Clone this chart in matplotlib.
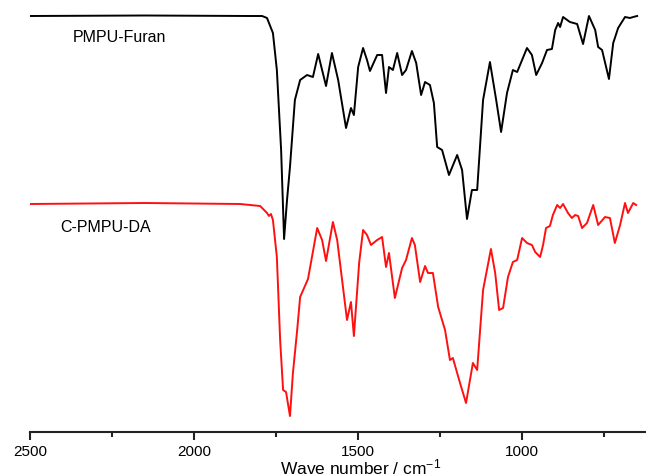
import matplotlib
matplotlib.use("Agg")
import matplotlib.pyplot as plt
from matplotlib.ticker import MultipleLocator

plt.rcParams['font.family'] = ['Liberation Sans', 'DejaVu Sans']
plt.rcParams['mathtext.fontset'] = 'custom'
plt.rcParams['mathtext.rm'] = 'Liberation Sans'
plt.rcParams['mathtext.it'] = 'Liberation Sans'

# wavenumber (cm-1) and offset transmittance (a.u.)
furan_wn = [2500, 2149, 1829, 1792, 1777, 1759, 1747, 1734, 1725, 1716, 1707, 1692, 1676,
            1655, 1637, 1621, 1597, 1579, 1560, 1536, 1521, 1512, 1499, 1484, 1472, 1463,
            1441, 1426, 1414, 1405, 1393, 1380, 1365, 1353, 1335, 1322, 1307, 1295, 1280,
            1268, 1258, 1243, 1222, 1197, 1182, 1167, 1152, 1136, 1118, 1097, 1078, 1063,
            1045, 1027, 1014, 984, 969, 956, 938, 923, 908, 898, 889, 883, 874, 853, 831,
            813, 795, 776, 767, 755, 734, 721, 706, 685, 670, 660, 648]
furan_t = [416, 416.5, 416, 416, 414, 399, 362, 282, 193, 232, 265, 332, 352,
           357, 355, 378, 346, 379, 352, 304, 324, 317, 365, 384, 372, 361,
           377, 377, 339, 365, 362, 379, 357, 362, 381, 369, 337, 350, 347,
           329, 285, 282, 257, 277, 262, 213, 242, 242, 332, 370, 332, 300,
           339, 362, 360, 384, 377, 357, 369, 382, 383, 402, 409, 405, 415, 410, 408,
           388, 416, 402, 385, 382, 353, 389, 404, 415, 414, 415, 416]

da_wn = [2500, 2149, 1859, 1798, 1777, 1771, 1765, 1759, 1747, 1737, 1728, 1719, 1707,
         1698, 1685, 1676, 1652, 1624, 1609, 1597, 1576, 1563, 1548, 1533, 1521, 1512,
         1496, 1484, 1472, 1460, 1441, 1426, 1414, 1405, 1387, 1365, 1353, 1335, 1326,
         1310, 1295, 1286, 1271, 1255, 1234, 1219, 1210, 1191, 1170, 1149, 1136, 1118,
         1094, 1081, 1069, 1057, 1042, 1027, 1014, 999, 984, 969, 959, 944, 935, 926,
         914, 905, 892, 883, 874, 859, 847, 837, 828, 816, 801, 782, 767, 746, 731,
         716, 700, 685, 676, 660, 651]
da_t = [228, 229, 228, 226, 219, 216, 218, 212, 175, 92, 42, 40, 16,
        59, 102, 135, 153, 204, 192, 171, 210, 192, 152, 112, 130, 96,
        169, 202, 197, 187, 192, 195, 165, 179, 134, 164, 172, 194, 187,
        150, 166, 159, 159, 125, 102, 72, 74, 52, 29, 69, 62, 142,
        183, 159, 122, 124, 155, 170, 172, 194, 189, 187, 180, 175, 187, 204,
        206, 217, 227, 224, 228, 219, 214, 217, 216, 204, 209, 227, 207, 215, 214,
        189, 207, 229, 219, 229, 227]

fig = plt.figure(figsize=(6.46, 4.74), dpi=100)
ax = fig.add_axes([30 / 646, 42 / 474, 616 / 646, 432 / 474])

ax.plot(furan_wn, furan_t, color='black', lw=1.4, solid_joinstyle='round')
ax.plot(da_wn, da_t, color='#ff1010', lw=1.4, solid_joinstyle='round')

ax.set_xlim(2500, 621)
ax.set_ylim(0, 432)

for side in ['top', 'left', 'right']:
    ax.spines[side].set_visible(False)
ax.spines['bottom'].set_linewidth(1.5)
ax.spines['bottom'].set_color('#222222')
ax.set_yticks([])

ax.xaxis.set_major_locator(MultipleLocator(500))
ax.xaxis.set_minor_locator(MultipleLocator(250))
ax.tick_params(axis='x', which='major', length=6, width=1.5, pad=3.5, labelsize=11, color='#222222')
ax.tick_params(axis='x', which='minor', length=3.5, width=1.5, color='#222222')

ax.set_xlabel('Wave number / cm$^{-1}$', fontsize=12.5, va='top')
ax.xaxis.set_label_coords(0.536, -0.060)

# labels placed in axes fraction
ax.text(43 / 616, (432 - 38) / 432, 'PMPU-Furan', transform=ax.transAxes, fontsize=11.5, va='center')
ax.text(30 / 616, (432 - 228) / 432, 'C-PMPU-DA', transform=ax.transAxes, fontsize=11.5, va='center')

fig.savefig('out.png', dpi=100)
